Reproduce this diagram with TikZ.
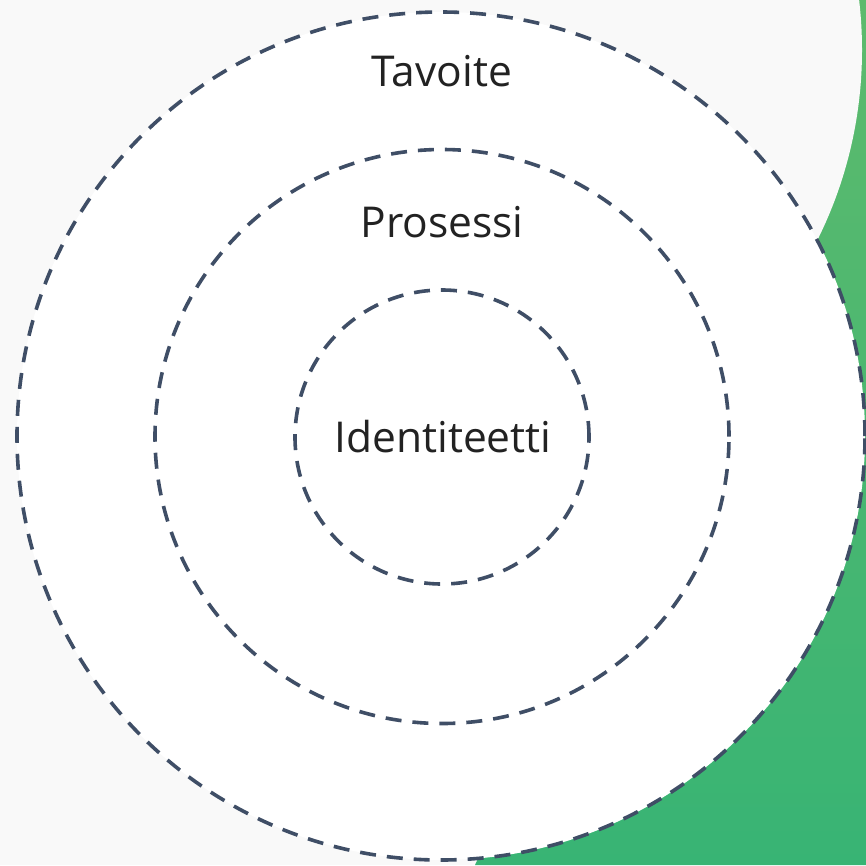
\documentclass[tikz,border=0pt]{standalone}
\usepackage{fontspec}
\setmainfont{Open Sans}
\definecolor{bggray}{HTML}{F9F9F9}
\definecolor{ringc}{HTML}{3F4E66}
\definecolor{greentop}{HTML}{5DBA6D}
\definecolor{greenbot}{HTML}{38B474}
\definecolor{txtc}{HTML}{222222}
\tikzset{
  ring/.style={draw=ringc, line width=3.6pt, dash pattern=on 16pt off 11pt},
  label/.style={font=\fontsize{42.5}{50}\selectfont, text=txtc, anchor=base, inner sep=0pt}
}
\begin{document}
\begin{tikzpicture}[x=1pt,y=-1pt]
\useasboundingbox (0,0) rectangle (866,865);
\fill[bggray] (0,0) rectangle (866,865);
\begin{scope}
\clip (0,0) rectangle (866,865);
\shade[top color=greentop, bottom color=greenbot] (700,0) -- (866,0) -- (866,865) -- (475,865) -- (600,600) -- cycle;
\fill[bggray] (436,50) circle[radius=426];
\end{scope}
\fill[white] (441,436) circle[radius=424];
\node[ring, circle, minimum size=848pt, inner sep=0pt] (outer) at (441,436) {};
\node[ring, circle, minimum size=574pt, inner sep=0pt] (middle) at (442,436.5) {};
\node[ring, circle, minimum size=294pt, inner sep=0pt] (inner) at (442,437) {};
\node[label] (tavoite) at (442,86) {Tavoite};
\node[label] (prosessi) at (442,237) {Prosessi};
\node[label] (identiteetti) at (443,452) {Identiteetti};
\end{tikzpicture}
\end{document}
